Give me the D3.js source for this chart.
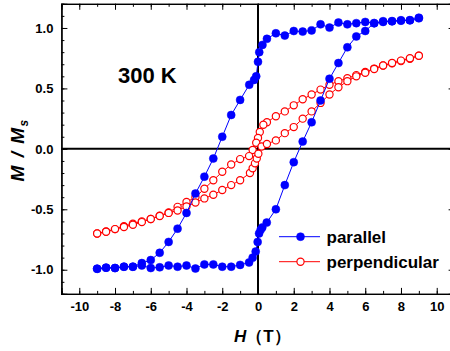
<!DOCTYPE html>
<html>
<head>
<meta charset="utf-8">
<script src="https://cdn.jsdelivr.net/npm/d3@7"></script>
<style>
	body { margin: 0; background: #fff; }
	svg { display: block; font-family: Arial, "Liberation Sans", sans-serif; }
</style>
</head>
<body>
<div id="chart"></div>
<script>
// parallel, branch coming down from +9 T
const parDownH = [9, 8.5, 8, 7.5, 7, 6.5, 6, 5.5, 5, 4.5, 4, 3.5, 3, 2.5, 2, 1.5, 1, 0.5, 0.25, 0.07, 0, -0.1, -0.22, -0.49, -1, -1.5, -2, -2.5, -3, -3.5, -4, -4.5, -5, -5.5, -6, -6.5, -7, -7.5, -8, -8.5, -9];
const parDownM = [1.085, 1.064, 1.064, 1.056, 1.056, 1.04, 1.05, 1.04, 1.03, 1.045, 1.003, 1.03, 0.98, 0.97, 0.975, 0.937, 0.956, 0.91, 0.86, 0.80, 0.72, 0.60, 0.57, 0.53, 0.405, 0.28, 0.10, -0.08, -0.23, -0.37, -0.53, -0.66, -0.77, -0.86, -0.92, -0.945, -0.975, -0.975, -0.986, -0.983, -0.992];
// parallel, branch going up from -9 T
const parUpH = [-9, -8.5, -8, -7.5, -7, -6.5, -6, -5.5, -5, -4.5, -4, -3.5, -3, -2.5, -2, -1.5, -1, -0.5, -0.3, -0.13, -0.02, 0.06, 0.15, 0.24, 0.49, 1, 1.5, 2, 2.5, 3, 3.5, 4, 4.5, 5, 5.5, 6, 6.5, 7, 7.5, 8, 8.5, 9];
const parUpM = [-0.992, -0.983, -0.986, -0.975, -0.975, -0.965, -0.986, -0.98, -0.965, -0.975, -0.965, -0.99, -0.956, -0.956, -0.975, -0.975, -0.96, -0.94, -0.90, -0.85, -0.77, -0.70, -0.67, -0.65, -0.61, -0.50, -0.30, -0.11, 0.06, 0.22, 0.40, 0.58, 0.71, 0.84, 0.93, 0.975, 1.04, 1.05, 1.056, 1.06, 1.064, 1.08];

// perpendicular
const perDownH = [9, 8.5, 8, 7.5, 7, 6.5, 6, 5.5, 5, 4.5, 4, 3.5, 3, 2.5, 2, 1.5, 1, 0.5, 0.3, 0.1, 0, -0.1, -0.3, -0.5, -1, -1.5, -2, -2.5, -3, -3.5, -4, -4.5, -5, -5.5, -6, -6.5, -7, -7.5, -8, -8.5, -9];
const perDownM = [0.77, 0.746, 0.727, 0.708, 0.69, 0.664, 0.636, 0.61, 0.584, 0.56, 0.53, 0.49, 0.45, 0.41, 0.36, 0.31, 0.27, 0.22, 0.20, 0.14, 0.09, 0.05, -0.01, -0.06, -0.085, -0.13, -0.19, -0.26, -0.33, -0.40, -0.44, -0.48, -0.526, -0.554, -0.58, -0.60, -0.62, -0.64, -0.664, -0.683, -0.70];
const perUpH = [-9, -8.5, -8, -7.5, -7, -6.5, -6, -5.5, -5, -4.5, -4, -3.5, -3, -2.5, -2, -1.5, -1, -0.45, -0.3, -0.17, -0.07, 0.02, 0.2, 0.5, 1, 1.5, 2, 2.5, 3, 3.5, 4, 4.5, 5, 5.5, 6, 6.5, 7, 7.5, 8, 8.5, 9];
const perUpM = [-0.70, -0.686, -0.664, -0.647, -0.628, -0.606, -0.58, -0.556, -0.53, -0.51, -0.477, -0.444, -0.41, -0.38, -0.34, -0.30, -0.26, -0.20, -0.16, -0.12, -0.08, -0.04, 0.02, 0.04, 0.07, 0.13, 0.18, 0.25, 0.31, 0.38, 0.45, 0.51, 0.56, 0.60, 0.63, 0.66, 0.69, 0.71, 0.73, 0.75, 0.77];

const xTicks = [-10, -8, -6, -4, -2, 0, 2, 4, 6, 8, 10];
const yTicks = [-1.0, -0.5, 0.0, 0.5, 1.0];
const yTickLabels = ["-1.0", "-0.5", "0.0", "0.5", "1.0"];
const legendNames = ["parallel", "perpendicular"];

const width = 450, height = 351;
const frame = { left: 61.4, right: 454.6, top: 3.8, bottom: 293.9 };

const svg = d3.select("#chart").append("svg")
	.attr("width", width)
	.attr("height", height);

const x = d3.scaleLinear().domain([-11, 11]).range([frame.left, frame.right]);
const y = d3.scaleLinear().domain([-1.2, 1.2]).range([frame.bottom, frame.top]);

const minorX = d3.range(-11, 11.01, 1);
const minorY = d3.range(-12, 12.1, 1).map(d => d / 10);

function styleAxis(g){
	g.select(".domain").attr("stroke", "#000").attr("stroke-width", 1.3);
	g.selectAll(".tick line").attr("stroke", "#000").attr("stroke-width", 1);
	g.selectAll("text")
		.attr("fill", "#000")
		.style("font-size", "13px")
		.style("font-weight", "bold")
		.style("font-family", "Arial, 'Liberation Sans', sans-serif");
}

// bottom
svg.append("g").attr("transform", `translate(0,${frame.bottom})`)
	.call(d3.axisBottom(x).tickValues(minorX).tickSize(-3).tickFormat(""))
	.call(styleAxis);
svg.append("g").attr("transform", `translate(0,${frame.bottom})`)
	.call(d3.axisBottom(x).tickValues(xTicks).tickSize(-6).tickPadding(8).tickFormat(d => String(d)))
	.call(styleAxis);
// top
svg.append("g").attr("transform", `translate(0,${frame.top})`)
	.call(d3.axisTop(x).tickValues(minorX).tickSize(-3).tickFormat(""))
	.call(styleAxis);
svg.append("g").attr("transform", `translate(0,${frame.top})`)
	.call(d3.axisTop(x).tickValues(xTicks).tickSize(-6).tickFormat(""))
	.call(styleAxis);
// left
svg.append("g").attr("transform", `translate(${frame.left},0)`)
	.call(d3.axisLeft(y).tickValues(minorY).tickSize(-3).tickFormat(""))
	.call(styleAxis);
svg.append("g").attr("transform", `translate(${frame.left},0)`)
	.call(d3.axisLeft(y).tickValues(yTicks).tickSize(-6).tickPadding(8).tickFormat((d, i) => yTickLabels[i]))
	.call(styleAxis);
// right
svg.append("g").attr("transform", `translate(${frame.right},0)`)
	.call(d3.axisRight(y).tickValues(minorY).tickSize(-3).tickFormat(""))
	.call(styleAxis);
svg.append("g").attr("transform", `translate(${frame.right},0)`)
	.call(d3.axisRight(y).tickValues(yTicks).tickSize(-6).tickFormat(""))
	.call(styleAxis);

// zero lines
svg.append("line")
	.attr("x1", frame.left).attr("x2", frame.right)
	.attr("y1", y(0)).attr("y2", y(0))
	.attr("stroke", "#000").attr("stroke-width", 2);
svg.append("line")
	.attr("x1", x(0)).attr("x2", x(0))
	.attr("y1", frame.top).attr("y2", frame.bottom)
	.attr("stroke", "#000").attr("stroke-width", 2);

const line = d3.line().x(d => x(d[0])).y(d => y(d[1]));
const zip = (a, b) => a.map((v, i) => [v, b[i]]);

const series = [
	{ color: "#0000ff", filled: true, branches: [zip(parDownH, parDownM), zip(parUpH, parUpM)] },
	{ color: "#ff0000", filled: false, branches: [zip(perDownH, perDownM), zip(perUpH, perUpM)] }
];

series.slice().reverse().forEach(s => {
	const g = svg.append("g");
	s.branches.forEach(b => {
		g.append("path")
			.attr("d", line(b))
			.attr("fill", "none")
			.attr("stroke", s.color)
			.attr("stroke-width", 1);
	});
	s.branches.forEach(b => {
		g.selectAll(null)
			.data(b)
			.enter()
			.append("circle")
			.attr("cx", d => x(d[0]))
			.attr("cy", d => y(d[1]))
			.attr("r", s.filled ? 4 : 3.6)
			.attr("fill", s.filled ? s.color : "#fff")
			.attr("stroke", s.color)
			.attr("stroke-width", s.filled ? 0.5 : 1.2);
	});
});

// legend
const legend = svg.append("g");
series.forEach((s, i) => {
	const ly = 236.7 + i * 25;
	legend.append("line")
		.attr("x1", 279).attr("x2", 320)
		.attr("y1", ly).attr("y2", ly)
		.attr("stroke", s.color).attr("stroke-width", 1);
	legend.append("circle")
		.attr("cx", 300.5).attr("cy", ly)
		.attr("r", s.filled ? 4 : 3.6)
		.attr("fill", s.filled ? s.color : "#fff")
		.attr("stroke", s.color)
		.attr("stroke-width", s.filled ? 0.5 : 1.2);
	legend.append("text")
		.attr("x", 326.5).attr("y", ly + 6)
		.style("font-size", "17px")
		.style("font-weight", "bold")
		.text(legendNames[i]);
});

// annotation
svg.append("text")
	.attr("x", 118).attr("y", 82.7)
	.style("font-size", "22px")
	.style("font-weight", "bold")
	.text("300 K");

// axis titles
const xt = svg.append("text")
	.attr("x", 234).attr("y", 341.5)
	.style("font-size", "17px")
	.style("font-weight", "bold");
xt.append("tspan").style("font-style", "italic").text("H");
xt.append("tspan").text("（T）");

const yt = svg.append("text")
	.attr("transform", `translate(23.5,${y(0) + 1}) rotate(-90)`)
	.attr("text-anchor", "middle")
	.style("font-size", "19px")
	.style("font-weight", "bold")
	.style("letter-spacing", "1.5px");
yt.append("tspan").style("font-style", "italic").text("M / M");
yt.append("tspan").style("font-style", "italic").style("font-size", "12px").attr("dy", 4).text("s");
</script>
</body>
</html>
